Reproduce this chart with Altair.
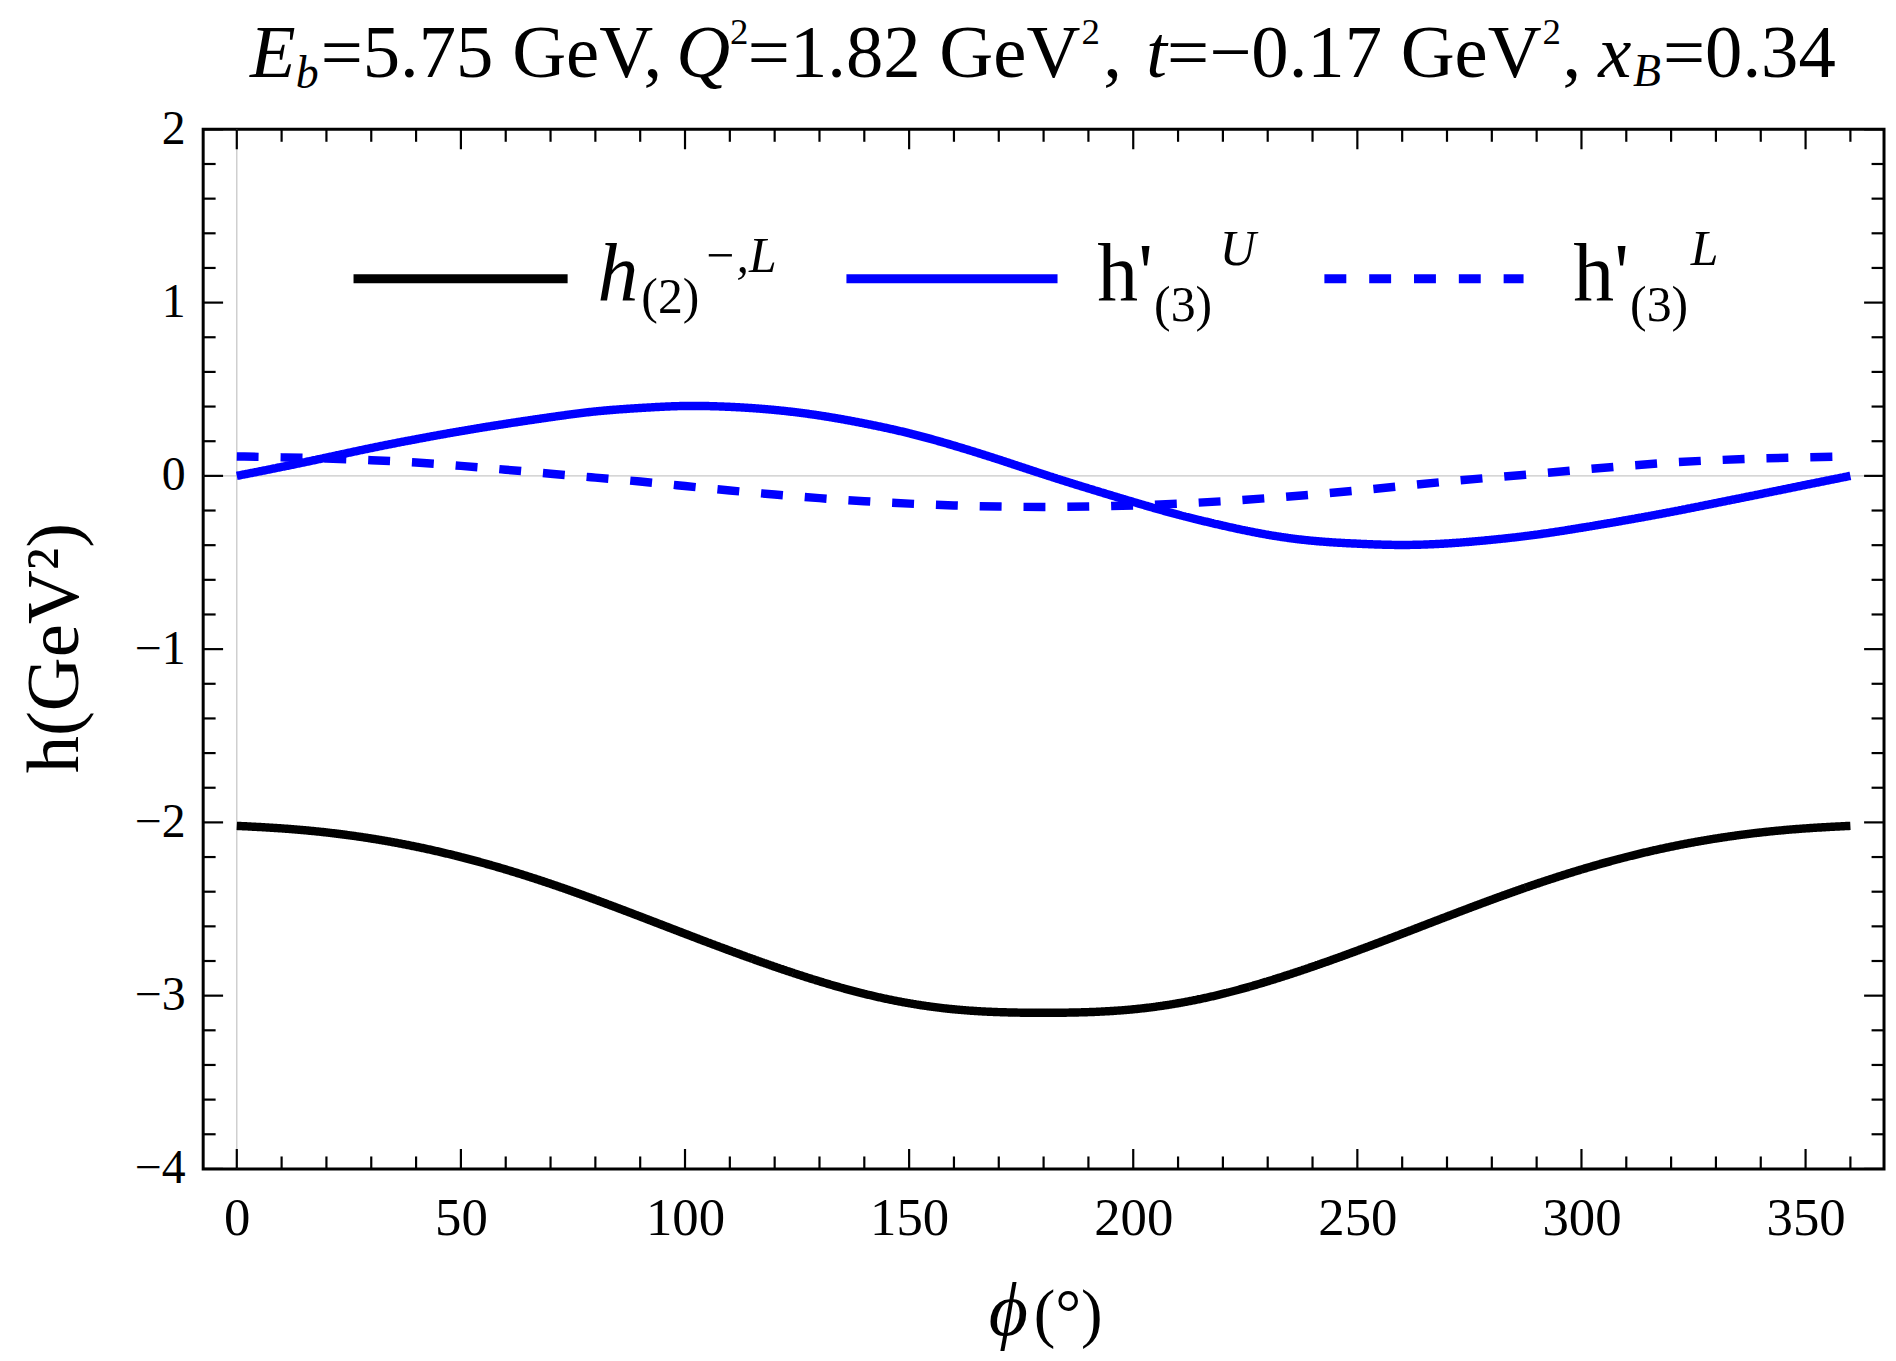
import altair as alt
import pandas as pd

# ---------------- data ----------------
phi = list(range(0, 361, 10))

h2L = [-2.020, -2.033, -2.056, -2.091, -2.138, -2.198, -2.270, -2.353, -2.445, -2.543,
       -2.643, -2.741, -2.834, -2.919, -2.992, -3.047, -3.082, -3.097, -3.100,
       -3.097, -3.082, -3.047, -2.992, -2.919, -2.834, -2.741, -2.643, -2.543, -2.445,
       -2.353, -2.270, -2.198, -2.138, -2.091, -2.056, -2.033, -2.020]

h3U = [0.000, 0.051, 0.105, 0.162, 0.212, 0.259, 0.301, 0.339, 0.375, 0.392,
       0.407, 0.400, 0.383, 0.351, 0.304, 0.249, 0.176, 0.095, 0.008,
       -0.073, -0.151, -0.226, -0.288, -0.343, -0.378, -0.392, -0.402, -0.392,
       -0.370, -0.341, -0.300, -0.256, -0.209, -0.157, -0.105, -0.052, 0.000]

h3L = [0.112, 0.107, 0.101, 0.091, 0.078, 0.058, 0.036, 0.012, -0.010, -0.032,
       -0.059, -0.085, -0.108, -0.129, -0.147, -0.161, -0.171, -0.178, -0.180,
       -0.178, -0.171, -0.161, -0.147, -0.129, -0.108, -0.085, -0.059, -0.032,
       -0.010, 0.012, 0.036, 0.058, 0.078, 0.091, 0.101, 0.107, 0.112]

series_names = ["h2L", "h3U", "h3L"]

x_major = list(range(0, 351, 50))
x_minor = [v for v in range(0, 361, 10) if v % 50 != 0]
y_major = [-4, -3, -2, -1, 0, 1, 2]
y_minor = [round(-4 + 0.2 * i, 1) for i in range(1, 30) if i % 5 != 0]

# ---------------- layout ----------------
FONT = "Liberation Serif"
W, H = 1688, 1044
PAD_L, PAD_T = 196, 119

xs = alt.Scale(domain=[-7.5, 367.5], nice=False, zero=False)
ys = alt.Scale(domain=[-4, 2], nice=False, zero=False)

X_AX = alt.Axis(values=x_major, format="d", labelFont=FONT, labelFontSize=53,
                labelColor="black", labelPadding=66, labelBaseline="alphabetic",
                labelFlush=False, ticks=False, tickSize=0, domain=False, grid=False,
                title=None)
Y_AX = alt.Axis(values=y_major, format="d", labelFont=FONT, labelFontSize=48,
                labelColor="black", labelPadding=18, ticks=False, tickSize=0,
                domain=False, grid=False, title=None)

rows = []
for name, vals in zip(series_names, [h2L, h3U, h3L]):
    for p, v in zip(phi, vals):
        rows.append({"phi": p, "h": v, "s": name})
df = pd.DataFrame(rows)

layers = []

# gray Mathematica axes at x=0, y=0
zero = pd.DataFrame({"v": [0]})
layers.append(alt.Chart(zero).mark_rule(color="#c8c8c8", strokeWidth=1.3).encode(
    x=alt.X("v:Q", scale=xs, axis=X_AX), y=alt.value(0), y2=alt.value(H)))
layers.append(alt.Chart(zero).mark_rule(color="#c8c8c8", strokeWidth=1.3).encode(
    y=alt.Y("v:Q", scale=ys, axis=Y_AX), x=alt.value(0), x2=alt.value(W)))

# curves
lines = alt.Chart(df).mark_line(strokeWidth=8.5, interpolate="basis", clip=True).encode(
    x=alt.X("phi:Q", scale=xs, axis=X_AX),
    y=alt.Y("h:Q", scale=ys, axis=Y_AX),
    color=alt.Color("s:N", scale=alt.Scale(domain=series_names,
                                           range=["#000000", "#0000ff", "#0000ff"]),
                    legend=None),
    strokeDash=alt.StrokeDash("s:N", scale=alt.Scale(domain=series_names,
                                                    range=[[1, 0], [1, 0], [22, 22]]),
                              legend=None),
    detail="s:N",
)
layers.append(lines)

# inward frame ticks
def xticks(vals, L):
    d = pd.DataFrame({"v": vals})
    out = []
    for y1, y2 in [(H, H - L), (0, L)]:
        out.append(alt.Chart(d).mark_rule(color="black", strokeWidth=2.2).encode(
            x=alt.X("v:Q", scale=xs, axis=X_AX), y=alt.value(y1), y2=alt.value(y2)))
    return out

def yticks(vals, L):
    d = pd.DataFrame({"v": vals})
    out = []
    for x1, x2 in [(0, L), (W, W - L)]:
        out.append(alt.Chart(d).mark_rule(color="black", strokeWidth=2.2).encode(
            y=alt.Y("v:Q", scale=ys, axis=Y_AX), x=alt.value(x1), x2=alt.value(x2)))
    return out

layers += xticks(x_major, 20) + xticks(x_minor, 12.5)
layers += yticks(y_major, 20) + yticks(y_minor, 12.5)

# text pieces
def txt(t, x, y, size, italic=False, angle=0, align="left"):
    kw = dict(align=align, baseline="alphabetic", font=FONT, fontSize=size, color="black")
    if italic:
        kw["fontStyle"] = "italic"
    if angle:
        kw["angle"] = angle
    return alt.Chart(pd.DataFrame({"t": [t]})).mark_text(**kw).encode(
        x=alt.value(x), y=alt.value(y), text="t:N")

TB, TS, SUB = 75, 37, 46   # title base / superscript / subscript sizes
title_parts = [
    ("E", 47, -53, TB, True), ("b", 93, -42, SUB, True),
    ("=5.75 GeV,", 118, -53, TB, False),
    ("Q", 475, -53, TB, True), ("2", 529, -86, TS, False),
    ("=1.82 GeV", 547, -53, TB, False), ("2", 882, -86, TS, False),
    (",", 904, -53, TB, False),
    ("t", 947, -53, TB, True),
    ("=\u22120.17 GeV", 968, -53, TB, False), ("2", 1345, -86, TS, False),
    (",", 1365, -53, TB, False),
    ("x", 1401, -53, TB, True), ("B", 1436, -44, SUB, True),
    ("=0.34", 1466, -53, TB, False),
]
for t, x, y, s, it in title_parts:
    layers.append(txt(t, x, y, s, it))

# legend
def legline(x1, x2, y, color, dash=None):
    kw = dict(color=color, strokeWidth=9)
    if dash:
        kw["strokeDash"] = dash
    return alt.Chart(pd.DataFrame({"a": [0]})).mark_rule(**kw).encode(
        x=alt.value(x1), x2=alt.value(x2), y=alt.value(y))

layers.append(legline(151, 366, 150, "#000000"))
layers.append(legline(646, 858, 150, "#0000ff"))
layers.append(legline(1126, 1326, 150, "#0000ff", [22, 23]))

LB, LS = 82, 50
leg_parts = [
    ("h", 396, 171, LB, True), ("(2)", 440, 184, LS, False), ("\u2212,L", 502, 143, LS, True),
    ("h'", 898, 171, LB, False), ("(3)", 955, 192, LS, False), ("U", 1021, 136, LS, True),
    ("h'", 1376, 171, LB, False), ("(3)", 1433, 192, LS, False), ("L", 1494, 136, LS, True),
]
for t, x, y, s, it in leg_parts:
    layers.append(txt(t, x, y, s, it))

# axis titles
layers.append(txt("\u03d5", 789, 1211, 76, True))
layers.append(txt("(\u00b0)", 834, 1211, 65, False))
layers.append(txt("h(GeV\u00b2)", -126, 521, 75, False, angle=270, align="center"))

chart = alt.layer(*layers).properties(
    width=W, height=H,
    padding={"left": PAD_L, "top": PAD_T, "right": 4, "bottom": 180},
    autosize=alt.AutoSizeParams(type="none"),
).configure_view(stroke="black", strokeWidth=3)

chart.save("out.html", embed_options={"renderer": "svg", "actions": False})
